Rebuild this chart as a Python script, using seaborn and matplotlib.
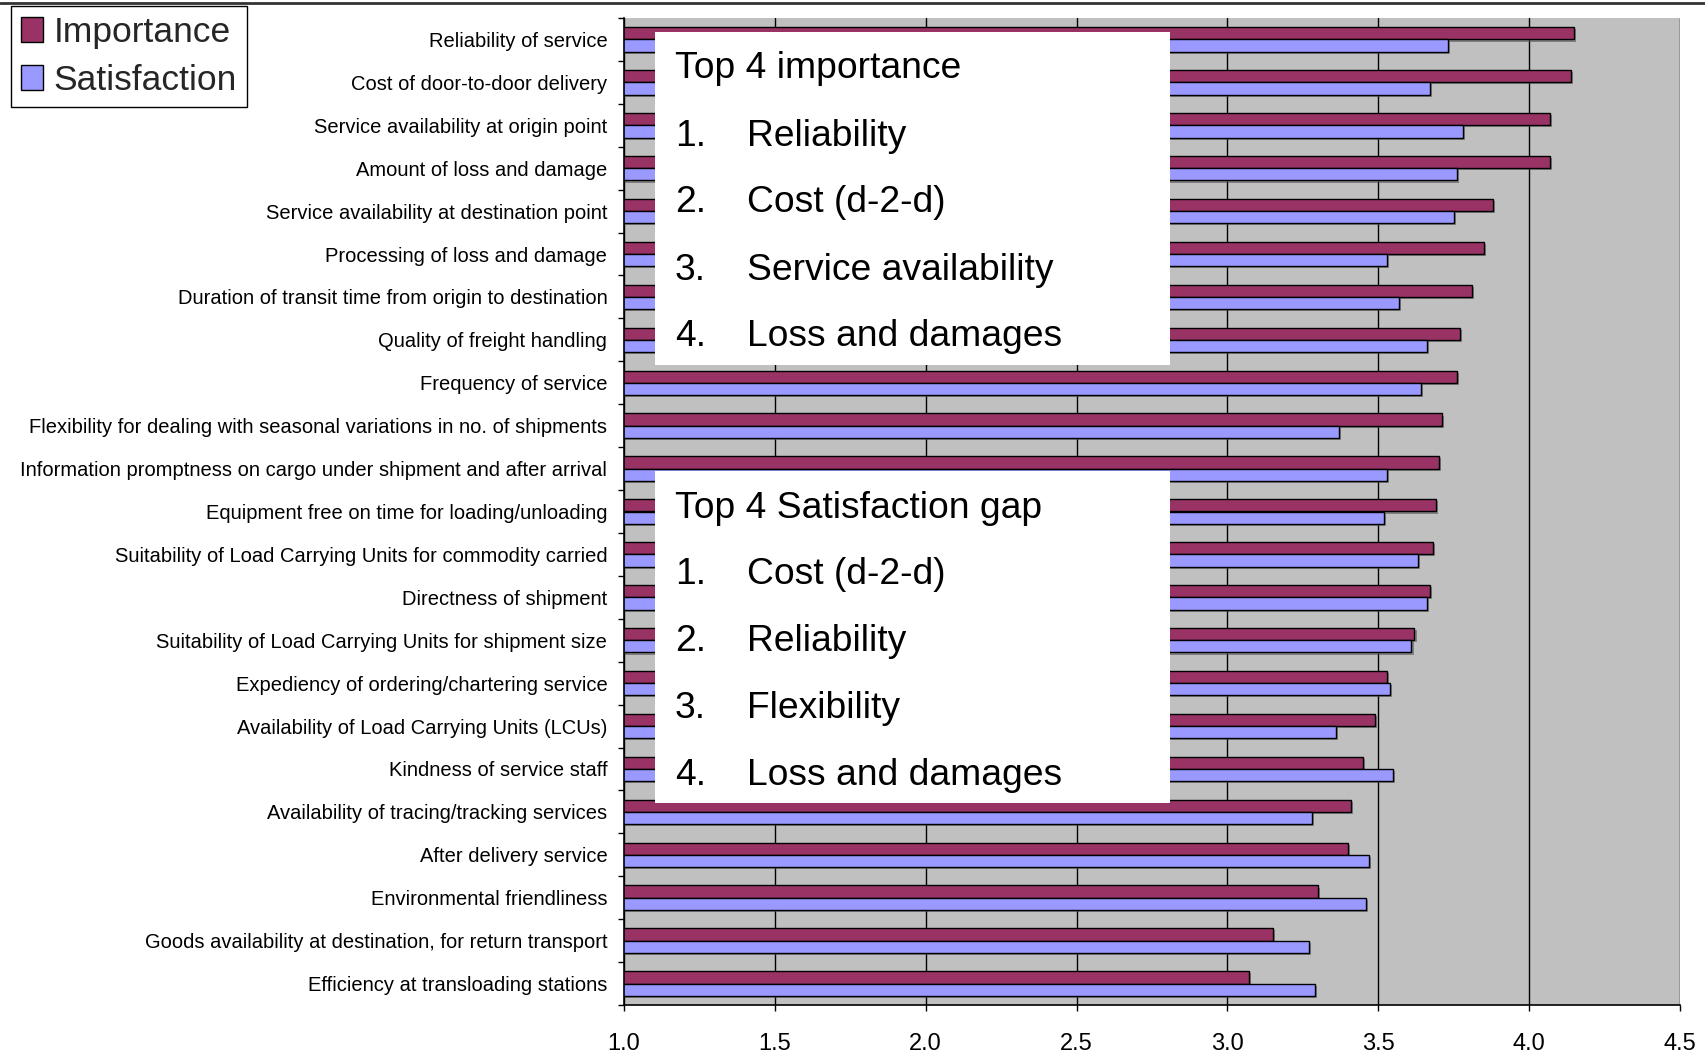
import numpy as np
import pandas as pd
import matplotlib
matplotlib.use("Agg")
import matplotlib.pyplot as plt
import matplotlib.patheffects as pe
from matplotlib.patches import Rectangle
from matplotlib.lines import Line2D
import seaborn as sns

# ---------------- data ----------------
categories = [
    "Reliability of service",
    "Cost of door-to-door delivery",
    "Service availability at origin point",
    "Amount of loss and damage",
    "Service availability at destination point",
    "Processing of loss and damage",
    "Duration of transit time from origin to destination",
    "Quality of freight handling",
    "Frequency of service",
    "Flexibility for dealing with seasonal variations in no. of shipments",
    "Information promptness on cargo under shipment and after arrival",
    "Equipment free on time for loading/unloading",
    "Suitability of Load Carrying Units for commodity carried",
    "Directness of shipment",
    "Suitability of Load Carrying Units for shipment size",
    "Expediency of ordering/chartering service",
    "Availability of Load Carrying Units (LCUs)",
    "Kindness of service staff",
    "Availability of tracing/tracking services",
    "After delivery service",
    "Environmental friendliness",
    "Goods availability at destination, for return transport",
    "Efficiency at transloading stations",
]
importance = [4.15, 4.14, 4.07, 4.07, 3.88, 3.85, 3.81, 3.77, 3.76, 3.71, 3.70, 3.69,
              3.68, 3.67, 3.62, 3.53, 3.49, 3.45, 3.41, 3.40, 3.30, 3.15, 3.07]
satisfaction = [3.73, 3.67, 3.78, 3.76, 3.75, 3.53, 3.57, 3.66, 3.64, 3.37, 3.53, 3.52,
                3.63, 3.66, 3.61, 3.54, 3.36, 3.55, 3.28, 3.47, 3.46, 3.27, 3.29]
series_names = ["Importance", "Satisfaction"]
series_colors = ["#993366", "#9999FF"]
xtick_values = [1.0, 1.5, 2.0, 2.5, 3.0, 3.5, 4.0, 4.5]

box1_title = "Top 4 importance"
box1_items = ["Reliability", "Cost (d-2-d)", "Service availability", "Loss and damages"]
box2_title = "Top 4 Satisfaction gap"
box2_items = ["Cost (d-2-d)", "Reliability", "Flexibility", "Loss and damages"]

# ---------------- style ----------------
sns.set_theme(style="white")
plt.rcParams["font.family"] = ["Liberation Sans", "DejaVu Sans"]

W, H = 1706, 1058
fig = plt.figure(figsize=(W / 100, H / 100), dpi=100)
fig.patch.set_facecolor("white")

ax = fig.add_axes([624 / W, 1 - 1005 / H, (1680 - 624) / W, (1005 - 18) / H])
ax.set_facecolor("#C0C0C0")

n = len(categories)
df = pd.DataFrame({
    "Category": categories * 2,
    "Value": importance + satisfaction,
    "Series": [series_names[0]] * n + [series_names[1]] * n,
})

sns.barplot(data=df, y="Category", x="Value", hue="Series", order=categories,
            hue_order=series_names, palette=series_colors, orient="h",
            width=0.57, edgecolor="black", linewidth=1.0, saturation=1,
            legend=False, ax=ax)

for p in ax.patches:
    p.set_path_effects([pe.SimplePatchShadow(offset=(1.5, -1.5), shadow_rgbFace="#555555", alpha=0.6),
                        pe.Normal()])

ax.set_xlim(1.0, 4.5)
ax.set_xticks(xtick_values)
ax.set_xticklabels([f"{v:.1f}" for v in xtick_values])
ax.set_xlabel("")
ax.set_ylabel("")
ax.grid(axis="x", color="black", linewidth=1.0)
ax.grid(axis="y", visible=False)
ax.set_axisbelow(True)

ax.tick_params(axis="x", which="major", bottom=True, length=4.3, width=1, color="black",
               direction="out", pad=16, labelsize=17, labelcolor="black")
ax.tick_params(axis="y", which="major", left=False, length=0, pad=12, labelsize=14.5,
               labelcolor="black")
ax.set_yticks(np.arange(-0.5, n, 1.0), minor=True)
ax.tick_params(axis="y", which="minor", left=True, length=4.3, width=1, color="black",
               direction="out")

for s in ["top", "right"]:
    ax.spines[s].set_visible(False)
for s in ["left", "bottom"]:
    ax.spines[s].set_color("black")
    ax.spines[s].set_linewidth(1.2)

# ---------------- legend ----------------
handles = [Rectangle((0, 0), 1, 1, facecolor=c, edgecolor="black", linewidth=1)
           for c in series_colors]
leg = fig.legend(handles, series_names, loc="upper left",
                 bbox_to_anchor=(11 / W, 1 - 6 / H), bbox_transform=fig.transFigure,
                 fontsize=25.5, frameon=True, fancybox=False, edgecolor="black",
                 framealpha=1, borderaxespad=0, borderpad=0.28, handlelength=0.62,
                 handleheight=0.72, handletextpad=0.3, labelspacing=0.42)
leg.get_frame().set_linewidth(1.0)

# ---------------- top border line ----------------
fig.add_artist(Line2D([0, 1], [1 - 3 / H, 1 - 3 / H], color="#333333", linewidth=2,
                      transform=fig.transFigure))

# ---------------- text boxes ----------------
def draw_box(top, bottom, title, items, title_center, item_centers):
    fig.add_artist(Rectangle((655 / W, 1 - bottom / H), (1170 - 655) / W, (bottom - top) / H,
                             transform=fig.transFigure, facecolor="white",
                             edgecolor="none", zorder=5))
    fs = 26.8
    half_cap = 13.3
    fig.text(675 / W, 1 - (title_center + half_cap) / H, title, fontsize=fs,
             va="baseline", ha="left", color="black", zorder=6)
    for i, (txt, yc) in enumerate(zip(items, item_centers)):
        fig.text(675 / W, 1 - (yc + half_cap) / H, f"{i + 1}.", fontsize=fs,
                 va="baseline", ha="left", color="black", zorder=6)
        fig.text(747 / W, 1 - (yc + half_cap) / H, txt, fontsize=fs,
                 va="baseline", ha="left", color="black", zorder=6)

draw_box(32, 364.5, box1_title, box1_items, 65, [132.7, 199.1, 266.6, 333.0])
draw_box(471, 803, box2_title, box2_items, 504.8, [571.2, 637.6, 705.0, 771.4])

fig.savefig("out.png", dpi=100, facecolor="white")
